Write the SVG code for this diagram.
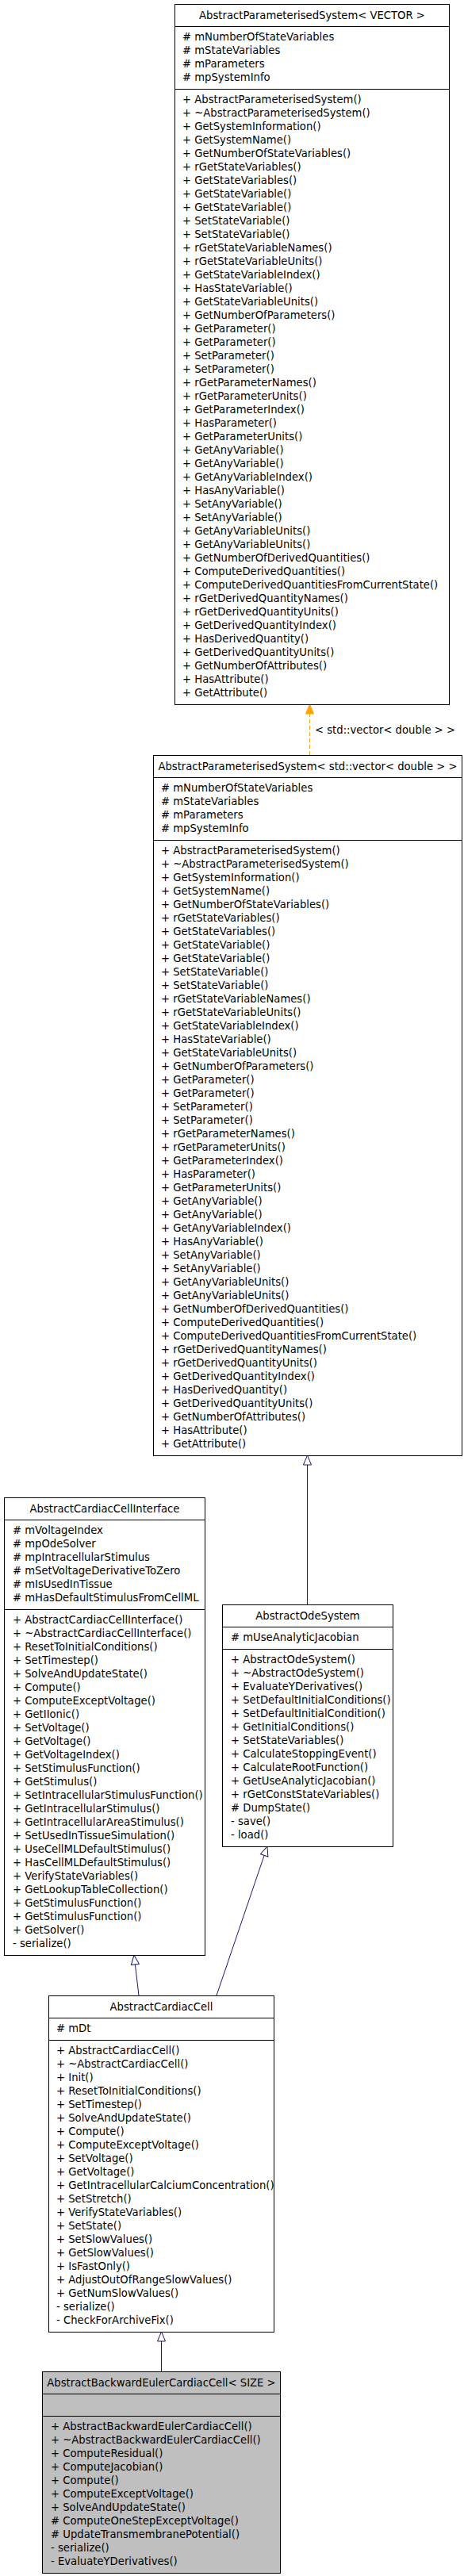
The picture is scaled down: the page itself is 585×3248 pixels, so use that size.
<svg xmlns="http://www.w3.org/2000/svg" width="585" height="3248" viewBox="0 0 585 3248">
<style>
.box{fill:#fff;stroke:#000;stroke-width:1}
.hl{fill:#bfbfbf}
.sep{stroke:#000;stroke-width:1}
text{font-family:"DejaVu Sans","Liberation Sans",sans-serif;font-size:13.2px;fill:#000}
.t{text-anchor:middle}
.edge{stroke:#191970;stroke-width:1;fill:none}
.tmpl{stroke:#ffa500;stroke-width:1;fill:none;stroke-dasharray:5,3}
</style>
<defs>
<marker id="inh" markerUnits="userSpaceOnUse" markerWidth="14" markerHeight="12" refX="13" refY="6" orient="auto"><path d="M1,1 L13,6 L1,11 Z" fill="#fff" stroke="#191970"/></marker>
<marker id="tpl" markerUnits="userSpaceOnUse" markerWidth="14" markerHeight="12" refX="13" refY="6" orient="auto"><path d="M1,1 L13,6 L1,11 Z" fill="#ffa500" stroke="#ffa500"/></marker>
</defs>
<rect width="585" height="3248" fill="#fff"/>
<g id="connectors">
<path class="tmpl" d="M390.5,952 L390.5,888" marker-end="url(#tpl)"/>
<text x="397" y="925">&lt; std::vector&lt; double &gt; &gt;</text>
<path class="edge" d="M387.5,2023 L387.5,1835" marker-end="url(#inh)"/>
<path class="edge" d="M175,2516 L169,2465" marker-end="url(#inh)"/>
<path class="edge" d="M273,2516 L337,2328" marker-end="url(#inh)"/>
<path class="edge" d="M203.5,2990 L203.5,2940" marker-end="url(#inh)"/>
</g>
<g id="node-AbstractParameterisedSystemVECTOR">
<rect class="box" x="220.5" y="5.5" width="346" height="883"/>
<line class="sep" x1="220.5" y1="33.5" x2="566.5" y2="33.5"/>
<line class="sep" x1="220.5" y1="112.5" x2="566.5" y2="112.5"/>
<text class="t" x="393.5" y="24">AbstractParameterisedSystem&lt; VECTOR &gt;</text>
<text x="230" y="51"><tspan x="230"># mNumberOfStateVariables</tspan><tspan x="230" dy="17"># mStateVariables</tspan><tspan x="230" dy="17"># mParameters</tspan><tspan x="230" dy="17"># mpSystemInfo</tspan></text>
<text x="230" y="130"><tspan x="230">+ AbstractParameterisedSystem()</tspan><tspan x="230" dy="17">+ ~AbstractParameterisedSystem()</tspan><tspan x="230" dy="17">+ GetSystemInformation()</tspan><tspan x="230" dy="17">+ GetSystemName()</tspan><tspan x="230" dy="17">+ GetNumberOfStateVariables()</tspan><tspan x="230" dy="17">+ rGetStateVariables()</tspan><tspan x="230" dy="17">+ GetStateVariables()</tspan><tspan x="230" dy="17">+ GetStateVariable()</tspan><tspan x="230" dy="17">+ GetStateVariable()</tspan><tspan x="230" dy="17">+ SetStateVariable()</tspan><tspan x="230" dy="17">+ SetStateVariable()</tspan><tspan x="230" dy="17">+ rGetStateVariableNames()</tspan><tspan x="230" dy="17">+ rGetStateVariableUnits()</tspan><tspan x="230" dy="17">+ GetStateVariableIndex()</tspan><tspan x="230" dy="17">+ HasStateVariable()</tspan><tspan x="230" dy="17">+ GetStateVariableUnits()</tspan><tspan x="230" dy="17">+ GetNumberOfParameters()</tspan><tspan x="230" dy="17">+ GetParameter()</tspan><tspan x="230" dy="17">+ GetParameter()</tspan><tspan x="230" dy="17">+ SetParameter()</tspan><tspan x="230" dy="17">+ SetParameter()</tspan><tspan x="230" dy="17">+ rGetParameterNames()</tspan><tspan x="230" dy="17">+ rGetParameterUnits()</tspan><tspan x="230" dy="17">+ GetParameterIndex()</tspan><tspan x="230" dy="17">+ HasParameter()</tspan><tspan x="230" dy="17">+ GetParameterUnits()</tspan><tspan x="230" dy="17">+ GetAnyVariable()</tspan><tspan x="230" dy="17">+ GetAnyVariable()</tspan><tspan x="230" dy="17">+ GetAnyVariableIndex()</tspan><tspan x="230" dy="17">+ HasAnyVariable()</tspan><tspan x="230" dy="17">+ SetAnyVariable()</tspan><tspan x="230" dy="17">+ SetAnyVariable()</tspan><tspan x="230" dy="17">+ GetAnyVariableUnits()</tspan><tspan x="230" dy="17">+ GetAnyVariableUnits()</tspan><tspan x="230" dy="17">+ GetNumberOfDerivedQuantities()</tspan><tspan x="230" dy="17">+ ComputeDerivedQuantities()</tspan><tspan x="230" dy="17">+ ComputeDerivedQuantitiesFromCurrentState()</tspan><tspan x="230" dy="17">+ rGetDerivedQuantityNames()</tspan><tspan x="230" dy="17">+ rGetDerivedQuantityUnits()</tspan><tspan x="230" dy="17">+ GetDerivedQuantityIndex()</tspan><tspan x="230" dy="17">+ HasDerivedQuantity()</tspan><tspan x="230" dy="17">+ GetDerivedQuantityUnits()</tspan><tspan x="230" dy="17">+ GetNumberOfAttributes()</tspan><tspan x="230" dy="17">+ HasAttribute()</tspan><tspan x="230" dy="17">+ GetAttribute()</tspan></text>
</g>
<g id="node-AbstractParameterisedSystemStdVector">
<rect class="box" x="193.5" y="952.5" width="389" height="883"/>
<line class="sep" x1="193.5" y1="980.5" x2="582.5" y2="980.5"/>
<line class="sep" x1="193.5" y1="1059.5" x2="582.5" y2="1059.5"/>
<text class="t" x="388" y="971">AbstractParameterisedSystem&lt; std::vector&lt; double &gt; &gt;</text>
<text x="203" y="998"><tspan x="203"># mNumberOfStateVariables</tspan><tspan x="203" dy="17"># mStateVariables</tspan><tspan x="203" dy="17"># mParameters</tspan><tspan x="203" dy="17"># mpSystemInfo</tspan></text>
<text x="203" y="1077"><tspan x="203">+ AbstractParameterisedSystem()</tspan><tspan x="203" dy="17">+ ~AbstractParameterisedSystem()</tspan><tspan x="203" dy="17">+ GetSystemInformation()</tspan><tspan x="203" dy="17">+ GetSystemName()</tspan><tspan x="203" dy="17">+ GetNumberOfStateVariables()</tspan><tspan x="203" dy="17">+ rGetStateVariables()</tspan><tspan x="203" dy="17">+ GetStateVariables()</tspan><tspan x="203" dy="17">+ GetStateVariable()</tspan><tspan x="203" dy="17">+ GetStateVariable()</tspan><tspan x="203" dy="17">+ SetStateVariable()</tspan><tspan x="203" dy="17">+ SetStateVariable()</tspan><tspan x="203" dy="17">+ rGetStateVariableNames()</tspan><tspan x="203" dy="17">+ rGetStateVariableUnits()</tspan><tspan x="203" dy="17">+ GetStateVariableIndex()</tspan><tspan x="203" dy="17">+ HasStateVariable()</tspan><tspan x="203" dy="17">+ GetStateVariableUnits()</tspan><tspan x="203" dy="17">+ GetNumberOfParameters()</tspan><tspan x="203" dy="17">+ GetParameter()</tspan><tspan x="203" dy="17">+ GetParameter()</tspan><tspan x="203" dy="17">+ SetParameter()</tspan><tspan x="203" dy="17">+ SetParameter()</tspan><tspan x="203" dy="17">+ rGetParameterNames()</tspan><tspan x="203" dy="17">+ rGetParameterUnits()</tspan><tspan x="203" dy="17">+ GetParameterIndex()</tspan><tspan x="203" dy="17">+ HasParameter()</tspan><tspan x="203" dy="17">+ GetParameterUnits()</tspan><tspan x="203" dy="17">+ GetAnyVariable()</tspan><tspan x="203" dy="17">+ GetAnyVariable()</tspan><tspan x="203" dy="17">+ GetAnyVariableIndex()</tspan><tspan x="203" dy="17">+ HasAnyVariable()</tspan><tspan x="203" dy="17">+ SetAnyVariable()</tspan><tspan x="203" dy="17">+ SetAnyVariable()</tspan><tspan x="203" dy="17">+ GetAnyVariableUnits()</tspan><tspan x="203" dy="17">+ GetAnyVariableUnits()</tspan><tspan x="203" dy="17">+ GetNumberOfDerivedQuantities()</tspan><tspan x="203" dy="17">+ ComputeDerivedQuantities()</tspan><tspan x="203" dy="17">+ ComputeDerivedQuantitiesFromCurrentState()</tspan><tspan x="203" dy="17">+ rGetDerivedQuantityNames()</tspan><tspan x="203" dy="17">+ rGetDerivedQuantityUnits()</tspan><tspan x="203" dy="17">+ GetDerivedQuantityIndex()</tspan><tspan x="203" dy="17">+ HasDerivedQuantity()</tspan><tspan x="203" dy="17">+ GetDerivedQuantityUnits()</tspan><tspan x="203" dy="17">+ GetNumberOfAttributes()</tspan><tspan x="203" dy="17">+ HasAttribute()</tspan><tspan x="203" dy="17">+ GetAttribute()</tspan></text>
</g>
<g id="node-AbstractCardiacCellInterface">
<rect class="box" x="5.5" y="1888.5" width="253" height="577"/>
<line class="sep" x1="5.5" y1="1916.5" x2="258.5" y2="1916.5"/>
<line class="sep" x1="5.5" y1="2029.5" x2="258.5" y2="2029.5"/>
<text class="t" x="132" y="1907">AbstractCardiacCellInterface</text>
<text x="16" y="1934"><tspan x="16"># mVoltageIndex</tspan><tspan x="16" dy="17"># mpOdeSolver</tspan><tspan x="16" dy="17"># mpIntracellularStimulus</tspan><tspan x="16" dy="17"># mSetVoltageDerivativeToZero</tspan><tspan x="16" dy="17"># mIsUsedInTissue</tspan><tspan x="16" dy="17"># mHasDefaultStimulusFromCellML</tspan></text>
<text x="16" y="2047"><tspan x="16">+ AbstractCardiacCellInterface()</tspan><tspan x="16" dy="17">+ ~AbstractCardiacCellInterface()</tspan><tspan x="16" dy="17">+ ResetToInitialConditions()</tspan><tspan x="16" dy="17">+ SetTimestep()</tspan><tspan x="16" dy="17">+ SolveAndUpdateState()</tspan><tspan x="16" dy="17">+ Compute()</tspan><tspan x="16" dy="17">+ ComputeExceptVoltage()</tspan><tspan x="16" dy="17">+ GetIIonic()</tspan><tspan x="16" dy="17">+ SetVoltage()</tspan><tspan x="16" dy="17">+ GetVoltage()</tspan><tspan x="16" dy="17">+ GetVoltageIndex()</tspan><tspan x="16" dy="17">+ SetStimulusFunction()</tspan><tspan x="16" dy="17">+ GetStimulus()</tspan><tspan x="16" dy="17">+ SetIntracellularStimulusFunction()</tspan><tspan x="16" dy="17">+ GetIntracellularStimulus()</tspan><tspan x="16" dy="17">+ GetIntracellularAreaStimulus()</tspan><tspan x="16" dy="17">+ SetUsedInTissueSimulation()</tspan><tspan x="16" dy="17">+ UseCellMLDefaultStimulus()</tspan><tspan x="16" dy="17">+ HasCellMLDefaultStimulus()</tspan><tspan x="16" dy="17">+ VerifyStateVariables()</tspan><tspan x="16" dy="17">+ GetLookupTableCollection()</tspan><tspan x="16" dy="17">+ GetStimulusFunction()</tspan><tspan x="16" dy="17">+ GetStimulusFunction()</tspan><tspan x="16" dy="17">+ GetSolver()</tspan><tspan x="16" dy="17">- serialize()</tspan></text>
</g>
<g id="node-AbstractOdeSystem">
<rect class="box" x="280.5" y="2023.5" width="215" height="305"/>
<line class="sep" x1="280.5" y1="2051.5" x2="495.5" y2="2051.5"/>
<line class="sep" x1="280.5" y1="2079.5" x2="495.5" y2="2079.5"/>
<text class="t" x="388" y="2042">AbstractOdeSystem</text>
<text x="291" y="2069"># mUseAnalyticJacobian</text>
<text x="291" y="2097"><tspan x="291">+ AbstractOdeSystem()</tspan><tspan x="291" dy="17">+ ~AbstractOdeSystem()</tspan><tspan x="291" dy="17">+ EvaluateYDerivatives()</tspan><tspan x="291" dy="17">+ SetDefaultInitialConditions()</tspan><tspan x="291" dy="17">+ SetDefaultInitialCondition()</tspan><tspan x="291" dy="17">+ GetInitialConditions()</tspan><tspan x="291" dy="17">+ SetStateVariables()</tspan><tspan x="291" dy="17">+ CalculateStoppingEvent()</tspan><tspan x="291" dy="17">+ CalculateRootFunction()</tspan><tspan x="291" dy="17">+ GetUseAnalyticJacobian()</tspan><tspan x="291" dy="17">+ rGetConstStateVariables()</tspan><tspan x="291" dy="17"># DumpState()</tspan><tspan x="291" dy="17">- save()</tspan><tspan x="291" dy="17">- load()</tspan></text>
</g>
<g id="node-AbstractCardiacCell">
<rect class="box" x="61.5" y="2516.5" width="284" height="424"/>
<line class="sep" x1="61.5" y1="2544.5" x2="345.5" y2="2544.5"/>
<line class="sep" x1="61.5" y1="2572.5" x2="345.5" y2="2572.5"/>
<text class="t" x="203.5" y="2535">AbstractCardiacCell</text>
<text x="71" y="2562"># mDt</text>
<text x="71" y="2590"><tspan x="71">+ AbstractCardiacCell()</tspan><tspan x="71" dy="17">+ ~AbstractCardiacCell()</tspan><tspan x="71" dy="17">+ Init()</tspan><tspan x="71" dy="17">+ ResetToInitialConditions()</tspan><tspan x="71" dy="17">+ SetTimestep()</tspan><tspan x="71" dy="17">+ SolveAndUpdateState()</tspan><tspan x="71" dy="17">+ Compute()</tspan><tspan x="71" dy="17">+ ComputeExceptVoltage()</tspan><tspan x="71" dy="17">+ SetVoltage()</tspan><tspan x="71" dy="17">+ GetVoltage()</tspan><tspan x="71" dy="17">+ GetIntracellularCalciumConcentration()</tspan><tspan x="71" dy="17">+ SetStretch()</tspan><tspan x="71" dy="17">+ VerifyStateVariables()</tspan><tspan x="71" dy="17">+ SetState()</tspan><tspan x="71" dy="17">+ SetSlowValues()</tspan><tspan x="71" dy="17">+ GetSlowValues()</tspan><tspan x="71" dy="17">+ IsFastOnly()</tspan><tspan x="71" dy="17">+ AdjustOutOfRangeSlowValues()</tspan><tspan x="71" dy="17">+ GetNumSlowValues()</tspan><tspan x="71" dy="17">- serialize()</tspan><tspan x="71" dy="17">- CheckForArchiveFix()</tspan></text>
</g>
<g id="node-AbstractBackwardEulerCardiacCell">
<rect class="box hl" x="53.5" y="2990.5" width="300" height="254"/>
<line class="sep" x1="53.5" y1="3018.5" x2="353.5" y2="3018.5"/>
<line class="sep" x1="53.5" y1="3046.5" x2="353.5" y2="3046.5"/>
<text class="t" x="203.5" y="3009">AbstractBackwardEulerCardiacCell&lt; SIZE &gt;</text>
<text x="64" y="3064"><tspan x="64">+ AbstractBackwardEulerCardiacCell()</tspan><tspan x="64" dy="17">+ ~AbstractBackwardEulerCardiacCell()</tspan><tspan x="64" dy="17">+ ComputeResidual()</tspan><tspan x="64" dy="17">+ ComputeJacobian()</tspan><tspan x="64" dy="17">+ Compute()</tspan><tspan x="64" dy="17">+ ComputeExceptVoltage()</tspan><tspan x="64" dy="17">+ SolveAndUpdateState()</tspan><tspan x="64" dy="17"># ComputeOneStepExceptVoltage()</tspan><tspan x="64" dy="17"># UpdateTransmembranePotential()</tspan><tspan x="64" dy="17">- serialize()</tspan><tspan x="64" dy="17">- EvaluateYDerivatives()</tspan></text>
</g>
</svg>
